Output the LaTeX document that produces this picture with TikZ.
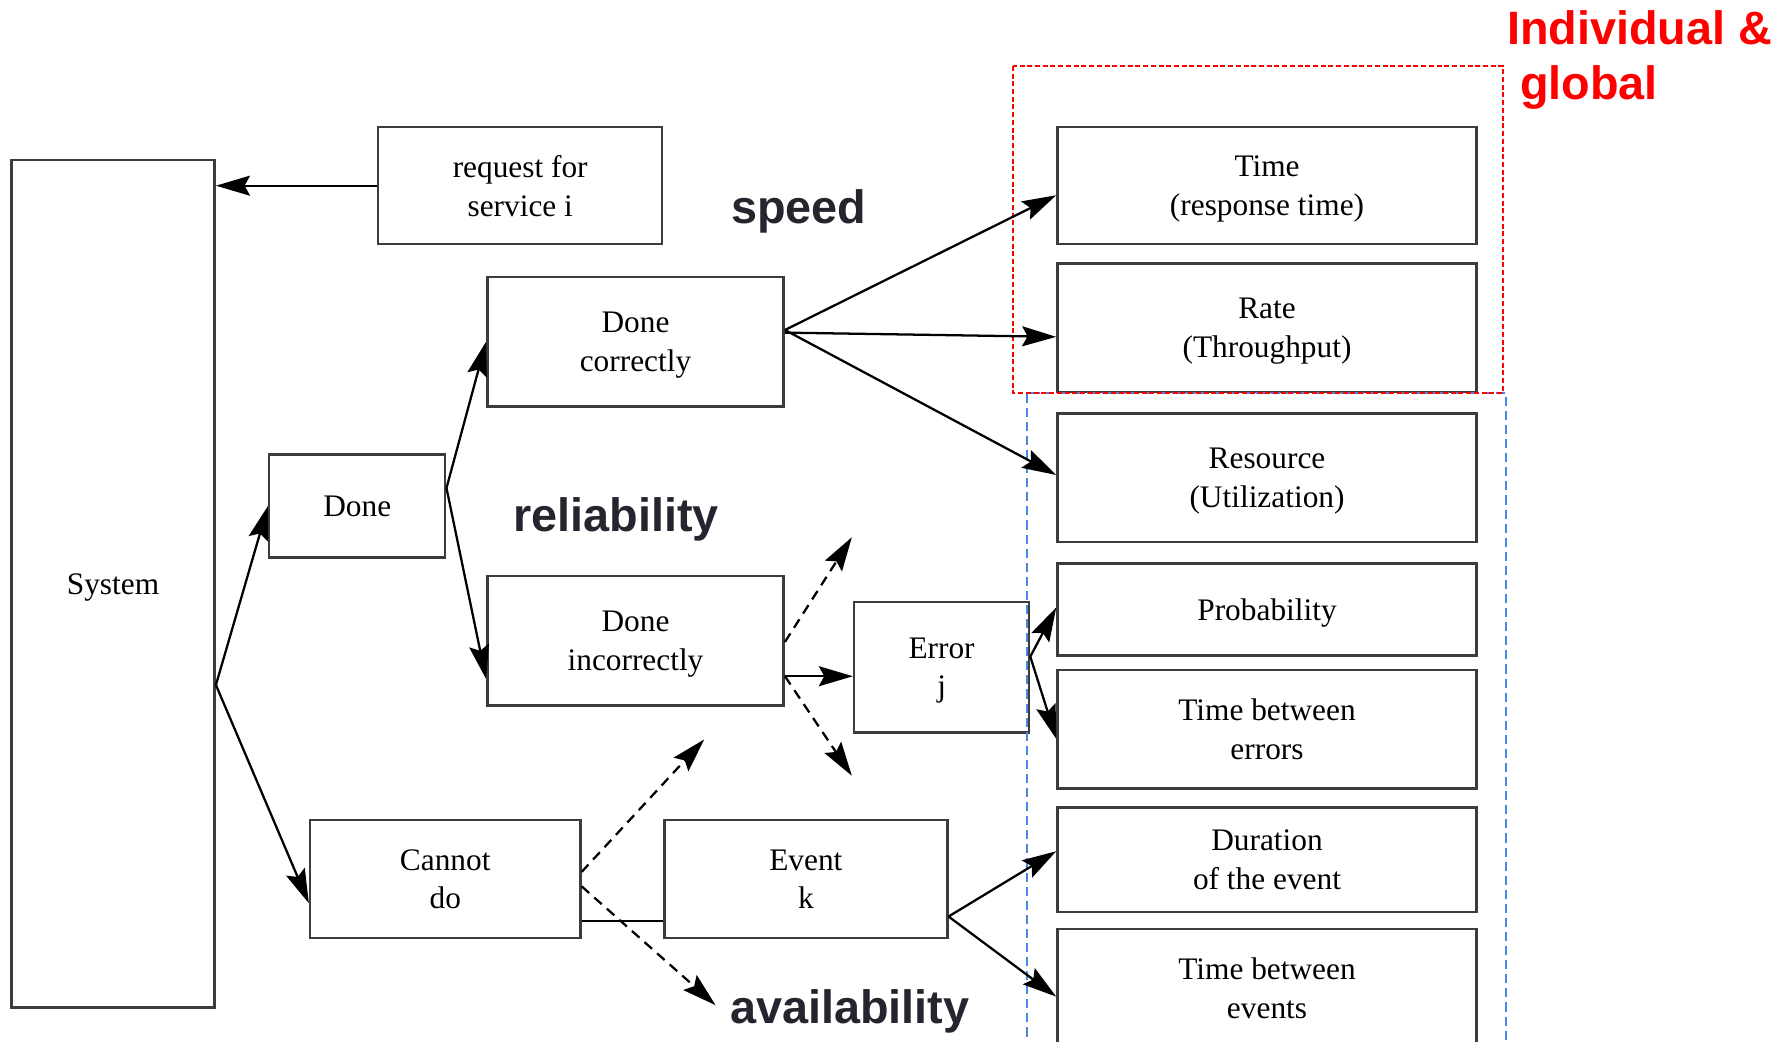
\documentclass[tikz,border=0pt]{standalone}
\usepackage{fontspec}
\setmainfont{Liberation Serif}
\newfontfamily\labelfont{Liberation Sans}
\usetikzlibrary{arrows.meta,calc}

\definecolor{boxline}{HTML}{3C3C3C}
\definecolor{labelink}{HTML}{25252F}
\definecolor{redink}{HTML}{FF0000}
\definecolor{blueline}{HTML}{4A86E8}

\tikzset{
  box/.style={draw=boxline, line width=0.55pt, inner sep=0pt, align=center,
    font=\fontsize{6.9}{8.5}\selectfont, text depth=0pt},
  arr/.style={draw=black, line width=0.5pt,
    -{Stealth[length=7.5pt,width=4.4pt,inset=1.2pt]}},
  darr/.style={arr, dash pattern=on 2.2pt off 1.5pt},
  plainline/.style={draw=black, line width=0.5pt},
  catlabel/.style={font=\labelfont\bfseries\fontsize{10.3}{12}\selectfont,
    text=labelink, inner sep=0pt, anchor=base west},
  redlabel/.style={font=\labelfont\bfseries\fontsize{10.3}{12}\selectfont,
    text=redink, inner sep=0pt, anchor=base west},
  reddash/.style={draw=redink, line width=0.35pt, dash pattern=on 1.1pt off 0.6pt},
  bluedash/.style={draw=blueline, line width=0.35pt, dash pattern=on 2pt off 1.1pt},
}

\begin{document}
\begin{tikzpicture}[x=0.25pt, y=-0.25pt]
\useasboundingbox (0,0) rectangle (1568,917);

% left part of the tree
\node[box, minimum width=44.75pt, minimum height=186.5pt] (sys) at (99.5,514) {System};
\node[box, minimum width=62.5pt, minimum height=25.75pt] (req) at (458,163.5) {request for\\service i};
\node[box, minimum width=38.75pt, minimum height=22.75pt] (done) at (314.5,445.5) {Done};
\node[box, minimum width=65.25pt, minimum height=28.5pt] (dc) at (559.5,301) {Done\\correctly};
\node[box, minimum width=65.25pt, minimum height=28.5pt] (di) at (559.5,564) {Done\\incorrectly};
\node[box, minimum width=59.5pt, minimum height=26pt] (cd) at (392,774) {Cannot\\do};
\node[box, minimum width=62.25pt, minimum height=26pt] (ev) at (709.5,774) {Event\\k};
\node[box, minimum width=38.5pt, minimum height=28.75pt] (err) at (829,587.5) {Error\\j};

% measures column
\tikzset{measure/.style={box, minimum width=92.25pt}}
\node[measure, minimum height=25.75pt] (time) at (1115.5,163.5) {Time\\(response time)};
\node[measure, minimum height=28.25pt] (rate) at (1115.5,288.5) {Rate\\(Throughput)};
\node[measure, minimum height=28.25pt] (res) at (1115.5,420.5) {Resource\\(Utilization)};
\node[measure, minimum height=20.25pt] (prob) at (1115.5,536.5) {Probability};
\node[measure, minimum height=26pt] (tbe) at (1115.5,642) {Time between\\errors};
\node[measure, minimum height=23pt] (dur) at (1115.5,757) {Duration\\of the event};
\node[measure, minimum height=26pt] (tbev) at (1115.5,870) {Time between\\events};

% grouping frames
\draw[bluedash] (904,925) -- (904,346) -- (1326,346) -- (1326,925);
\draw[reddash] (892,58) rectangle (1323,346);

% connectors
\draw[arr] (req.west) -- (req.west -| sys.east);
\coordinate (sysout) at ($(sys.north east)!0.619!(sys.south east)$);
\draw[arr] (sysout) -- (done.west);
\draw[arr] (sysout) -- ($(cd.north west)!0.70!(cd.south west)$);

\coordinate (doneout) at ($(done.north east)!0.33!(done.south east)$);
\draw[arr] (doneout) -- (dc.west);
\draw[arr] (doneout) -- ($(di.north west)!0.79!(di.south west)$);

\coordinate (dcout) at ($(dc.north east)!0.41!(dc.south east)$);
\draw[arr] (dcout) -- ($(time.north west)!0.58!(time.south west)$);
\draw[arr] ($(dc.north east)!0.43!(dc.south east)$) -- ($(rate.north west)!0.57!(rate.south west)$);
\draw[arr] (dcout) -- ($(res.north west)!0.48!(res.south west)$);

\coordinate (diup) at ($(di.north east)!0.51!(di.south east)$);
\coordinate (diout) at ($(di.north east)!0.77!(di.south east)$);
\coordinate (diupend) at (750,473);
\coordinate (didownend) at (750,683);
\draw[darr] (diup) -- (diupend);
\draw[arr] (diout) -- (diout -| err.west);
\draw[darr] (diout) -- (didownend);

\coordinate (errout) at ($(err.north east)!0.42!(err.south east)$);
\draw[arr] (errout) -- ($(prob.north west)!0.48!(prob.south west)$);
\draw[arr] (errout) -- ($(tbe.north west)!0.58!(tbe.south west)$);

\coordinate (cdup) at ($(cd.north east)!0.44!(cd.south east)$);
\coordinate (cddown) at ($(cd.north east)!0.56!(cd.south east)$);
\coordinate (cdupend) at (620,651);
\coordinate (cddownend) at (630,885);
\draw[darr] (cdup) -- (cdupend);
\draw[darr] (cddown) -- (cddownend);
\draw[plainline] ($(cd.north east)!0.85!(cd.south east)$) -- ($(ev.north west)!0.85!(ev.south west)$);

\coordinate (evout) at ($(ev.north east)!0.81!(ev.south east)$);
\draw[arr] (evout) -- ($(dur.north west)!0.42!(dur.south west)$);
\draw[arr] (evout) -- ($(tbev.north west)!0.57!(tbev.south west)$);

% category labels
\node[catlabel] (speed) at (643,196.5) {speed};
\node[catlabel] (reliab) at (451,468) {reliability};
\node[catlabel] (avail) at (642,901) {availability};
\node[redlabel] (indiv) at (1326,39.6) {Individual \&};
\node[redlabel] (glob) at (1337.5,88) {global};
\end{tikzpicture}
\end{document}
